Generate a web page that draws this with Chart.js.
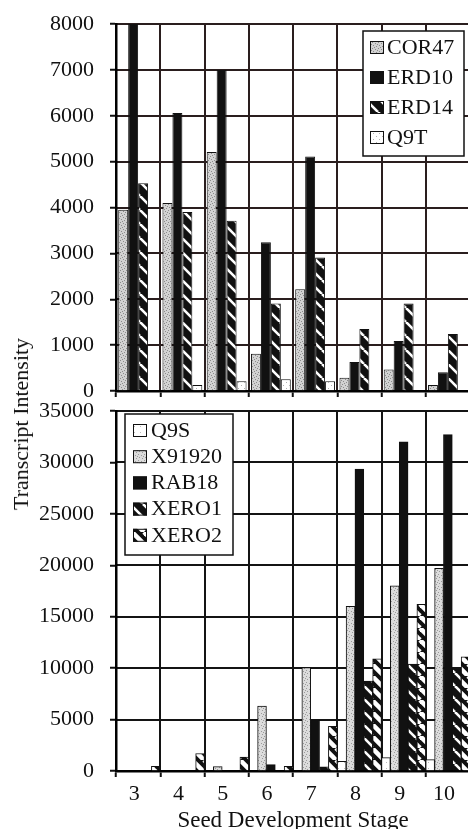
<!DOCTYPE html>
<html>
<head>
<meta charset="utf-8">
<script src="https://cdn.jsdelivr.net/npm/chart.js@4/dist/chart.umd.min.js"></script>
<style>
  html, body { margin: 0; padding: 0; background: #fff; overflow: hidden; }
  #wrap { position: relative; width: 468px; height: 829px; overflow: hidden; background: #fff; }
  canvas { display: block; }
  #top { position: absolute; left: 0; top: 0; }
  #bottom { position: absolute; left: 0; top: 400px; }
  #ytitle {
    position: absolute; left: 21px; top: 424px;
    transform: translate(-50%, -50%) rotate(-90deg);
    white-space: nowrap; font: 22px "Liberation Serif", "DejaVu Serif", serif; color: #111;
  }
</style>
</head>
<body>
<div id="wrap">
  <canvas id="bottom" width="470" height="432"></canvas>
  <canvas id="top" width="470" height="400"></canvas>
  <div id="ytitle">Transcript Intensity</div>
</div>
<script>
// Seed development stages (x axis)
const stages = ['3', '4', '5', '6', '7', '8', '9', '10'];

// Upper panel: transcript intensity per stage
const cor47 = [3950, 4100, 5210, 810, 2220, 290, 470, 130];
const erd10 = [8000, 6060, 7000, 3240, 5110, 630, 1090, 410];
const erd14 = [4530, 3900, 3710, 1910, 2910, 1350, 1910, 1240];
const q9t   = [0, 130, 210, 255, 210, 0, 0, 0];
const topTicks = { min: 0, max: 8000, step: 1000 };

// Lower panel: transcript intensity per stage
const q9s    = [0, 0, 0, 0, 0, 950, 1300, 1100];
const x91920 = [0, 0, 420, 6300, 10050, 16000, 18000, 19700];
const rab18  = [0, 0, 0, 620, 5000, 29350, 32000, 32700];
const xero1  = [0, 0, 0, 0, 400, 8750, 10400, 9900];
const xero2  = [450, 1700, 1350, 460, 4340, 10900, 16200, 11100];
const bottomTicks = { min: 0, max: 35000, step: 5000 };

const SERIF = '"Liberation Serif", "DejaVu Serif", serif';
const INK = 'rgb(17,17,17)';

// ---- fill patterns -------------------------------------------------------
function makePattern(w, h, paint) {
  const c = document.createElement('canvas');
  c.width = w; c.height = h;
  const g = c.getContext('2d');
  paint(g, w, h);
  return g.createPattern(c, 'repeat');
}
function stipple(base, dot, pts) {
  return makePattern(6, 6, (g, w, h) => {
    g.fillStyle = base; g.fillRect(0, 0, w, h);
    g.fillStyle = dot;
    pts.forEach(p => g.fillRect(p[0], p[1], 1, 1));
  });
}
function hatch(size, width, bg, fg) {
  return makePattern(size, size, (g, s) => {
    g.fillStyle = bg; g.fillRect(0, 0, s, s);
    g.strokeStyle = fg; g.lineWidth = width;
    [-s, 0, s].forEach(k => {
      g.beginPath(); g.moveTo(k, 0); g.lineTo(k + s, s); g.stroke();
    });
  });
}

const patCor47  = stipple('#d2d2d2', '#8c8c8c', [[0,0],[3,1],[1,3],[4,4],[2,5],[5,2]]);
const patX91920 = stipple('#dcdcdc', '#9a9a9a', [[0,0],[3,1],[1,3],[4,4],[5,2]]);
const patQ9t    = stipple('#ffffff', '#b0b0b0', [[1,1],[4,4]]);
const patQ9s    = stipple('#ffffff', '#bcbcbc', [[2,2]]);
const patErd14  = hatch(14, 2.6, '#111', '#fff');
const patXero1  = hatch(13, 2.6, '#111', '#fff');
const patXero2  = hatch(12, 4.6, '#111', '#fff');

// ---- grid lines, painted behind the bars (value ticks on y, category
//      boundaries on x) ----------------------------------------------------
const plotGrid = {
  id: 'plotGrid',
  afterDatasetsDraw(chart, args, o) {
    const { ctx, chartArea: a, scales: { x, y } } = chart;
    ctx.save();
    ctx.globalAlpha = 1;
    ctx.globalCompositeOperation = 'destination-over';
    ctx.fillStyle = o.color;
    y.ticks.forEach(t => {
      const py = Math.round(y.getPixelForValue(t.value));
      ctx.fillRect(a.left, py - 1, a.right - a.left, 2);
    });
    const n = x.ticks.length;
    for (let i = 1; i < n; i++) {
      const px = Math.round((x.getPixelForValue(i - 1) + x.getPixelForValue(i)) / 2);
      ctx.fillRect(px - 1, a.top, 2, a.bottom - a.top);
    }
    ctx.restore();
  }
};

// ---- boxed legend drawn inside the plot ---------------------------------
const boxLegend = {
  id: 'boxLegend',
  afterDraw(chart, args, o) {
    const ctx = chart.ctx;
    ctx.save();
    ctx.fillStyle = '#fff';
    ctx.fillRect(o.x, o.y, o.w, o.h);
    ctx.lineWidth = 1.5;
    ctx.strokeStyle = INK;
    ctx.strokeRect(o.x, o.y, o.w, o.h);
    ctx.font = '22px ' + SERIF;
    ctx.textBaseline = 'middle';
    chart.data.datasets.forEach((ds, i) => {
      const cy = o.y + o.first + i * o.pitch;
      ctx.fillStyle = ds.backgroundColor;
      ctx.fillRect(o.x + o.sx, cy - 6, 14, 13);
      ctx.lineWidth = 1;
      ctx.strokeStyle = INK;
      ctx.strokeRect(o.x + o.sx + 0.5, cy - 5.5, 13, 12);
      ctx.fillStyle = INK;
      ctx.fillText(ds.label, o.x + o.tx, cy + 1);
    });
    ctx.restore();
  }
};

function dataset(label, data, fill) {
  return { label, data, backgroundColor: fill, borderColor: INK, borderWidth: 1, borderSkipped: 'start' };
}

function baseOptions(t, catPct, legendBox, gridColor, padTop, xHeight, showX) {
  const grid = {
    display: true, drawOnChartArea: false, drawTicks: true,
    color: gridColor, lineWidth: 1.5, tickLength: 6, tickColor: INK, tickWidth: 2
  };
  return {
    responsive: false,
    animation: false,
    devicePixelRatio: 1,
    layout: { padding: { top: padTop, left: 0, right: 0, bottom: 0 } },
    datasets: { bar: { categoryPercentage: catPct, barPercentage: 1.0 } },
    plugins: {
      legend: { display: false }, tooltip: { enabled: false },
      boxLegend: legendBox, plotGrid: { color: gridColor }
    },
    scales: {
      x: {
        offset: true,
        grid: Object.assign({ offset: true }, grid),
        border: { color: 'rgb(0,0,0)', width: 2.5 },
        ticks: { display: showX, font: { family: SERIF, size: 22 }, color: INK, padding: 4, labelOffset: -4, maxRotation: 0 },
        title: {
          display: showX, text: 'Seed Development Stage', color: INK,
          font: { family: SERIF, size: 23, lineHeight: 1 }, padding: { top: 0, bottom: 0 }
        },
        afterFit(s) { s.height = xHeight; }
      },
      y: {
        min: t.min, max: t.max,
        grid: Object.assign({}, grid),
        border: { color: 'rgb(0,0,0)', width: 2.5 },
        ticks: { stepSize: t.step, font: { family: SERIF, size: 22 }, color: INK, padding: 16, callback: v => String(v) },
        afterFit(s) { s.width = 116; s.paddingTop = 0; s.paddingBottom = 0; }
      }
    }
  };
}

// upper panel
new Chart(document.getElementById('top'), {
  type: 'bar',
  data: {
    labels: stages,
    datasets: [
      dataset('COR47', cor47, patCor47),
      dataset('ERD10', erd10, INK),
      dataset('ERD14', erd14, patErd14),
      dataset('Q9T', q9t, patQ9t)
    ]
  },
  options: baseOptions(topTicks, 0.9,
    { x: 363, y: 31, w: 101, h: 125, sx: 7, tx: 24, first: 16, pitch: 30 },
    'rgb(42,30,30)', 24, 9, false),
  plugins: [plotGrid, boxLegend]
});

// lower panel
new Chart(document.getElementById('bottom'), {
  type: 'bar',
  data: {
    labels: stages,
    datasets: [
      dataset('Q9S', q9s, patQ9s),
      dataset('X91920', x91920, patX91920),
      dataset('RAB18', rab18, INK),
      dataset('XERO1', xero1, patXero1),
      dataset('XERO2', xero2, patXero2)
    ]
  },
  options: baseOptions(bottomTicks, 1.0,
    { x: 125, y: 14, w: 108, h: 141, sx: 8, tx: 26, first: 16, pitch: 26.2 },
    'rgb(20,20,20)', 11, 61, true),
  plugins: [plotGrid, boxLegend]
});
</script>
</body>
</html>
